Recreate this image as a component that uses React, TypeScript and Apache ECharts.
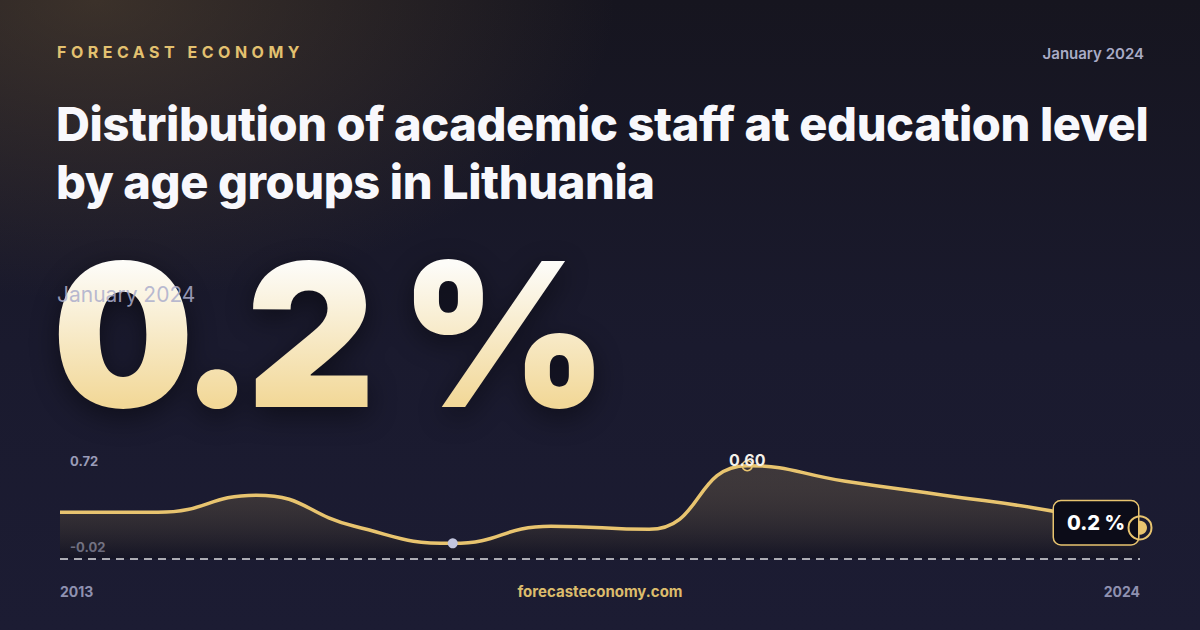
import React, { useEffect, useRef } from 'react';
import * as echarts from 'echarts';

const years = ['2013', '2014', '2015', '2016', '2017', '2018', '2019', '2020', '2021', '2022', '2023', '2024'];
const shares = [0.30, 0.30, 0.41, 0.21, 0.10, 0.21, 0.19, 0.60, 0.50, 0.41, 0.32, 0.20];
const axisTicks = [-0.02, 0.72];

const GOLD = '#e8c46f';
const FONT = 'Inter, "Noto Sans", sans-serif';

const App: React.FC = () => {
  const chartRef = useRef<HTMLDivElement>(null);

  useEffect(() => {
    document.body.style.margin = '0';
    if (!chartRef.current) return;
    const chart = echarts.init(chartRef.current, null, { renderer: 'svg' });
    const last = shares.length - 1;
    const minIdx = shares.indexOf(Math.min(...shares));
    const maxIdx = shares.indexOf(Math.max(...shares));

    const seriesData = shares.map((v, i) => {
      if (i === minIdx) {
        return { value: v, symbol: 'circle', symbolSize: 10, itemStyle: { color: '#c3c6de', borderWidth: 0 } };
      }
      if (i === maxIdx) {
        return {
          value: v,
          symbol: 'circle',
          symbolSize: 10,
          itemStyle: { color: 'rgba(0,0,0,0)', borderColor: GOLD, borderWidth: 1.5 },
          label: {
            show: true,
            position: 'top',
            distance: -8,
            formatter: (p: any) => p.value.toFixed(2),
            color: '#f4f1ea',
            fontSize: 16,
            fontWeight: 700,
            fontFamily: FONT
          }
        };
      }
      if (i === last) {
        return {
          value: v,
          symbol: 'circle',
          symbolSize: 14,
          itemStyle: { color: GOLD, borderWidth: 0 },
          label: {
            show: true,
            position: 'left',
            distance: -5,
            offset: [0, -5],
            formatter: (p: any) => `${p.value.toFixed(1)} %`,
            color: '#ffffff',
            fontSize: 20,
            fontWeight: 800,
            fontFamily: FONT,
            backgroundColor: '#0c0c18',
            borderColor: GOLD,
            borderWidth: 1.5,
            borderRadius: 7,
            padding: [12, 13, 11, 13]
          }
        };
      }
      return { value: v, symbol: 'none' };
    });

    chart.setOption({
      animation: false,
      backgroundColor: 'transparent',
      grid: { left: 60, right: 60, top: 447, bottom: 68 },
      xAxis: {
        type: 'category',
        data: years,
        boundaryGap: false,
        axisLine: { show: false },
        axisTick: { show: false },
        splitLine: { show: false },
        axisLabel: {
          interval: (i: number) => i === 0 || i === years.length - 1,
          alignMinLabel: 'left',
          alignMaxLabel: 'right',
          margin: 22,
          color: '#8f91b0',
          fontSize: 14,
          fontWeight: 700,
          fontFamily: FONT
        }
      },
      yAxis: {
        type: 'value',
        min: axisTicks[0],
        max: axisTicks[1],
        interval: axisTicks[1] - axisTicks[0],
        axisLine: { show: false },
        axisTick: { show: false },
        splitLine: { show: false },
        axisLabel: {
          inside: true,
          margin: 10,
          formatter: (v: number) =>
            v > 0.3 ? `{top|${v.toFixed(2)}}` : `{bot|${v.toFixed(2)}}`,
          rich: {
            top: { padding: [28, 0, 0, 0], color: '#9a9cb8', fontSize: 13, fontWeight: 700, fontFamily: FONT },
            bot: { padding: [0, 0, 30, 0], color: '#9a9cb8', fontSize: 13, fontWeight: 700, fontFamily: FONT }
          }
        }
      },
      series: [
        {
          type: 'line',
          data: seriesData,
          smooth: 0.5,
          lineStyle: { color: GOLD, width: 3.5 },
          itemStyle: { color: GOLD },
          areaStyle: {
            color: new echarts.graphic.LinearGradient(0, 0, 0, 1, [
              { offset: 0, color: 'rgba(232, 196, 111, 0.24)' },
              { offset: 1, color: 'rgba(8, 8, 16, 0.55)' }
            ])
          },
          markLine: {
            silent: true,
            symbol: 'none',
            label: { show: false },
            lineStyle: { color: 'rgba(255,255,255,0.85)', type: [8, 6], width: 1.5 },
            data: [{ yAxis: 0 }]
          },
          markPoint: {
            silent: true,
            symbol: 'circle',
            symbolSize: 23,
            itemStyle: { color: 'rgba(0,0,0,0)', borderColor: GOLD, borderWidth: 2 },
            label: { show: false },
            data: [{ coord: [last, shares[last]] }]
          },
          z: 3
        }
      ]
    });

    return () => {
      chart.dispose();
    };
  }, []);

  return (
    <div
      style={{
        position: 'relative',
        width: 1200,
        height: 630,
        overflow: 'hidden',
        fontFamily: FONT,
        background:
          'radial-gradient(ellipse 520px 300px at 8% 0%, rgba(120, 95, 60, 0.38), rgba(120, 95, 60, 0) 100%), linear-gradient(180deg, #16151f 0%, #1a1a2e 55%, #1c1c33 100%)'
      }}
    >
      <div
        style={{
          position: 'absolute',
          left: 57,
          top: 42,
          fontSize: 16,
          fontWeight: 700,
          letterSpacing: 4.5,
          color: '#e3c170'
        }}
      >
        FORECAST ECONOMY
      </div>
      <div
        style={{
          position: 'absolute',
          right: 56,
          top: 44,
          fontSize: 15,
          fontWeight: 600,
          color: '#a9abc6'
        }}
      >
        January 2024
      </div>
      <div
        style={{
          position: 'absolute',
          left: 56,
          top: 95,
          width: 1140,
          fontSize: 47,
          lineHeight: '58px',
          fontWeight: 800,
          letterSpacing: -0.4,
          whiteSpace: 'nowrap',
          color: '#f8f8fc'
        }}
      >
        Distribution of academic staff at education level
        <br />
        by age groups in Lithuania
      </div>
      <div
        style={{
          position: 'absolute',
          left: 52,
          top: 234,
          fontSize: 200,
          lineHeight: '200px',
          fontWeight: 900,
          letterSpacing: -8,
          whiteSpace: 'nowrap',
          background: 'linear-gradient(180deg, #fdfcf8 15%, #f2d898 85%)',
          WebkitBackgroundClip: 'text',
          backgroundClip: 'text',
          color: 'transparent',
          filter: 'drop-shadow(0 8px 14px rgba(0,0,0,0.45))'
        }}
      >
        0.2 %
      </div>
      <div
        style={{
          position: 'absolute',
          left: 57,
          top: 282,
          fontSize: 21,
          fontWeight: 400,
          color: 'rgba(172, 174, 204, 0.85)'
        }}
      >
        January 2024
      </div>
      <div
        ref={chartRef}
        style={{ position: 'absolute', left: 0, top: 0, width: 1200, height: 630 }}
      />
      <div
        style={{
          position: 'absolute',
          left: 0,
          width: 1200,
          top: 582,
          textAlign: 'center',
          fontSize: 15,
          fontWeight: 700,
          color: '#dcbc6c'
        }}
      >
        forecasteconomy.com
      </div>
    </div>
  );
};

export default App;
